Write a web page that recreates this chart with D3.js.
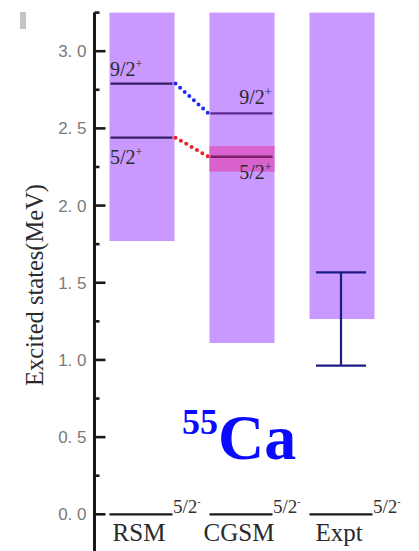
<!DOCTYPE html>
<html>
<head>
<meta charset="utf-8">
<script src="https://cdn.jsdelivr.net/npm/d3@7"></script>
<style>
  html, body { margin: 0; padding: 0; background: #fff; }
  svg { display: block; }
  .serif { font-family: "Liberation Serif", "Times New Roman", "DejaVu Serif", serif; }
  .sans { font-family: "Liberation Sans", Arial, "DejaVu Sans", sans-serif; }
</style>
</head>
<body>
<div id="chart"></div>
<script>
// Calculation / experiment columns
const models = ["RSM", "CGSM", "Expt"];
// Shaded uncertainty window of each column (MeV)
const windowLow  = [1.77, 1.11, 1.265];
const windowHigh = [3.25, 3.25, 3.25];
// Excited levels (MeV); null where a column has no such level
const level92 = [2.79, 2.597, null];
const level52 = [2.44, 2.316, null];
// CGSM width band around its 5/2+ level
const band52Low = 2.22, band52High = 2.385;
// Experimental range
const exptLow = 0.963, exptHigh = 1.567;
// Ground state label and axis ticks
const groundState = "5/2";
const majorTicks = [0, 0.5, 1.0, 1.5, 2.0, 2.5, 3.0];
const minorTicks = [0.25, 0.75, 1.25, 1.75, 2.25, 2.75, 3.25];

const W = 419, H = 551;
const svg = d3.select("#chart").append("svg").attr("width", W).attr("height", H);

const y = d3.scaleLinear().domain([-0.25, 3.25]).range([552.9, 12.6]);
const x = d3.scaleBand().domain(models).range([92, 392]).paddingInner(0.35).paddingOuter(0.175);
const bw = x.bandwidth();

// small grey mark in the corner
svg.append("rect").attr("x", 20).attr("y", 12).attr("width", 6).attr("height", 17).attr("fill", "#c4c4c4");

// shaded windows
svg.append("g").selectAll("rect").data(models).join("rect")
  .attr("x", d => x(d))
  .attr("width", bw)
  .attr("y", (d, i) => y(windowHigh[i]))
  .attr("height", (d, i) => y(windowLow[i]) - y(windowHigh[i]))
  .attr("fill", "#c999ff");

// CGSM 5/2+ band
svg.append("rect")
  .attr("x", x("CGSM")).attr("width", bw)
  .attr("y", y(band52High)).attr("height", y(band52Low) - y(band52High))
  .attr("fill", "#d962cc");

// level lines
const lvlColor92 = ["#3b1f66", "#5b2b8f", null];
const lvlColor52 = ["#3b1f66", "#7d1f66", null];
models.forEach((m, i) => {
  if (level92[i] != null)
    svg.append("line").attr("x1", x(m) + 1).attr("x2", x(m) + bw - 2)
      .attr("y1", y(level92[i])).attr("y2", y(level92[i]))
      .attr("stroke", lvlColor92[i]).attr("stroke-width", 2.4);
  if (level52[i] != null)
    svg.append("line").attr("x1", x(m) + 1).attr("x2", x(m) + bw - 2)
      .attr("y1", y(level52[i])).attr("y2", y(level52[i]))
      .attr("stroke", lvlColor52[i]).attr("stroke-width", 2.4);
});

// dotted connectors RSM -> CGSM
function connector(vals, color) {
  svg.append("line")
    .attr("x1", x("RSM") + bw + 1).attr("y1", y(vals[0]))
    .attr("x2", x("CGSM") - 1).attr("y2", y(vals[1]))
    .attr("stroke", color).attr("stroke-width", 4)
    .attr("stroke-linecap", "round").attr("stroke-dasharray", "0,6.2");
}
connector(level92, "#1f2ff0");
connector(level52, "#f02020");

// level labels with superscript parity
function spinLabel(xp, yp, anchor, base, parity, size) {
  const t = svg.append("text").attr("class", "serif")
    .attr("x", xp).attr("y", yp)
    .attr("text-anchor", anchor)
    .attr("font-size", size).attr("fill", "#2a2a2a");
  t.append("tspan").text(base);
  t.append("tspan").attr("dy", -size * 0.42).attr("font-size", size * 0.6).text(parity);
}
spinLabel(x("RSM") + 0.5, 76, "start", "9/2", "+", 20);
spinLabel(x("RSM") + 0.5, 164, "start", "5/2", "+", 20);
spinLabel(x("CGSM") + bw - 3, 104, "end", "9/2", "+", 20);
spinLabel(x("CGSM") + bw - 3, 179, "end", "5/2", "+", 20);

// experimental error bar
const xe = x("Expt") + bw / 2 - 1;
const eb = svg.append("g").attr("stroke", "#1c1c85").attr("stroke-width", 2.2);
eb.append("line").attr("x1", xe).attr("x2", xe).attr("y1", y(exptHigh)).attr("y2", y(exptLow));
eb.append("line").attr("x1", xe - 25).attr("x2", xe + 25).attr("y1", y(exptHigh)).attr("y2", y(exptHigh));
eb.append("line").attr("x1", xe - 25).attr("x2", xe + 25).attr("y1", y(exptLow)).attr("y2", y(exptLow));

// ground states
models.forEach(m => {
  svg.append("line").attr("x1", x(m)).attr("x2", x(m) + 63)
    .attr("y1", y(0)).attr("y2", y(0))
    .attr("stroke", "#1a1a1a").attr("stroke-width", 2.2);
  const g = svg.append("text").attr("class", "serif")
    .attr("x", x(m) + 63.5).attr("y", y(0) - 1)
    .attr("font-size", 19).attr("fill", "#333");
  g.append("tspan").text(groundState);
  g.append("tspan").attr("dy", -8).attr("font-size", 10).text("-");
});

// column names
svg.append("g").selectAll("text").data(models).join("text")
  .attr("class", "serif")
  .attr("x", d => x(d) + bw / 2 - 3)
  .attr("y", 541)
  .attr("text-anchor", "middle")
  .attr("font-size", 25).attr("fill", "#2a2a2a")
  .text(d => d);

// y axis
const ax = svg.append("g").attr("transform", "translate(94.5,0)");
ax.append("line").attr("x1", 0).attr("x2", 0).attr("y1", y(3.25)).attr("y2", H)
  .attr("stroke", "#1a1a1a").attr("stroke-width", 3);
ax.selectAll(".maj").data(majorTicks).join("line").attr("class", "maj")
  .attr("x1", -1).attr("x2", 11).attr("y1", d => y(d)).attr("y2", d => y(d))
  .attr("stroke", "#1a1a1a").attr("stroke-width", 2.6);
ax.selectAll(".min").data(minorTicks).join("line").attr("class", "min")
  .attr("x1", 0).attr("x2", 5).attr("y1", d => y(d)).attr("y2", d => y(d))
  .attr("stroke", "#1a1a1a").attr("stroke-width", 2.6);
const fmt = d3.format(".1f");
ax.selectAll(".tl").data(majorTicks).join("text").attr("class", "tl sans")
  .attr("x", -8).attr("y", d => y(d) + 6)
  .attr("text-anchor", "end")
  .attr("font-size", 17).attr("fill", "#7a7a7a")
  .text(d => fmt(d).replace(".", ". "));

svg.append("text").attr("class", "serif")
  .attr("transform", "translate(43,285) rotate(-90)")
  .attr("text-anchor", "middle")
  .attr("font-size", 24.5).attr("fill", "#2a2a2a")
  .text("Excited states(MeV)");

// nucleus label
const nuc = svg.append("text").attr("class", "serif")
  .attr("x", 182).attr("y", 459)
  .attr("font-weight", "bold").attr("fill", "#0a0aff");
nuc.append("tspan").attr("font-size", 36).attr("dy", -25).text("55");
nuc.append("tspan").attr("font-size", 64).attr("dy", 25).text("Ca");
</script>
</body>
</html>
